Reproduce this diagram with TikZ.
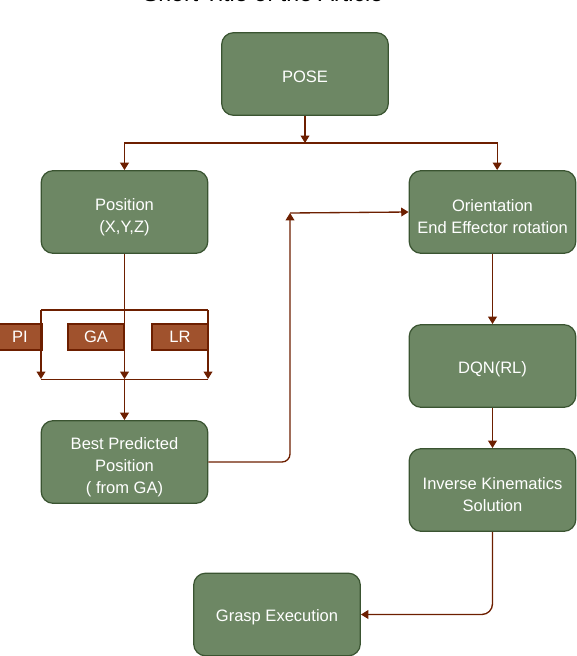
\documentclass[tikz,border=0pt]{standalone}
\usepackage{fontspec}
\setmainfont{Liberation Sans}
\usetikzlibrary{arrows.meta}

\definecolor{stagefill}{HTML}{6D8764}
\definecolor{stageline}{HTML}{3A5431}
\definecolor{algofill}{HTML}{A0522D}
\definecolor{wirebrown}{HTML}{6D1F00}

\newcommand{\lifttext}[1]{\rule{0pt}{#1pt}}

\tikzset{
	stage/.style={shape=rectangle,rounded corners=9pt,draw=stageline,line width=0.9pt,fill=stagefill,text=white,minimum width=125pt,minimum height=62pt,align=center,font=\fontsize{12.4}{16.5}\selectfont},
	algo/.style={shape=rectangle,draw=wirebrown,line width=1.2pt,fill=algofill,text=white,minimum height=19.5pt,font=\fontsize{12.4}{15}\selectfont},
	wire/.style={draw=wirebrown,line width=1pt},
	flow/.style={wire,-{Triangle[length=5.5pt,width=6.5pt]}}
}

\begin{document}
\begin{tikzpicture}[x=0.75pt,y=-0.75pt]
	
	\useasboundingbox (0,0) rectangle (576,656);
	
	\node[anchor=base,font=\fontsize{17.4}{20}\selectfont] (title) at (263,1.5) {Short Title of the Article};
	
	\node[stage] (pose) at (305,74)     {\lifttext{13.5}POSE};
	
	\node[stage] (position) at (124.5,212)     {\lifttext{16.5}Position\\(X,Y,Z)};
	\node[stage] (orient) at (492.5,212)     {\lifttext{15.5}Orientation\\End Effector rotation};
	
	\node[algo,minimum width=33pt] (pi) at (20,337)     {PI};
	\node[algo,minimum width=42pt] (ga) at (96,337)     {GA};
	\node[algo,minimum width=42pt] (lr) at (180,337)     {LR};
	
	\node[stage] (dqn) at (492.5,366)     {\lifttext{13.5}DQN(RL)};
	
	\node[stage] (best) at (124.5,462)     {\lifttext{17}Best Predicted\\Position\\( from GA)};
	\node[stage] (ik) at (492.5,490)     {\lifttext{15.5}Inverse Kinematics\\Solution};
	
	\node[stage] (grasp) at (277,614.5)     {\lifttext{13.5}Grasp Execution};
	
	\coordinate (split) at (305,143);
	\coordinate (toplft) at (41,310);
	\coordinate (toprgt) at (208,310);
	\coordinate (botlft) at (41,379);
	\coordinate (botmid) at (124.5,379);
	\coordinate (botrgt) at (208,379);
	\coordinate (bend) at (290,213);
	
	\draw[flow] (pose) -- (split);
	\draw[flow] (split) -| (position.north);
	\draw[flow] (split) -| ([xshift=3.5pt]orient.north);
	
	\draw[wire] (toplft) -- (toprgt);
	\draw[flow] (toplft) -- (botlft);
	\draw[flow] (toprgt) -- (botrgt);
	\draw[wire,line width=0.7pt] (botlft) -- (botrgt);
	\draw[flow] (position) -- (botmid);
	\draw[flow] (botmid) -- (best);
	
	\draw[flow,rounded corners=6pt] (best.east) -| (bend);
	\draw[flow] (bend) -- (orient.west);
	
	\draw[flow] (orient) -- (dqn);
	\draw[flow] (dqn) -- (ik);
	\draw[flow,rounded corners=8pt] (ik.south) |- (grasp.east);
	\end{tikzpicture}
\end{document}
